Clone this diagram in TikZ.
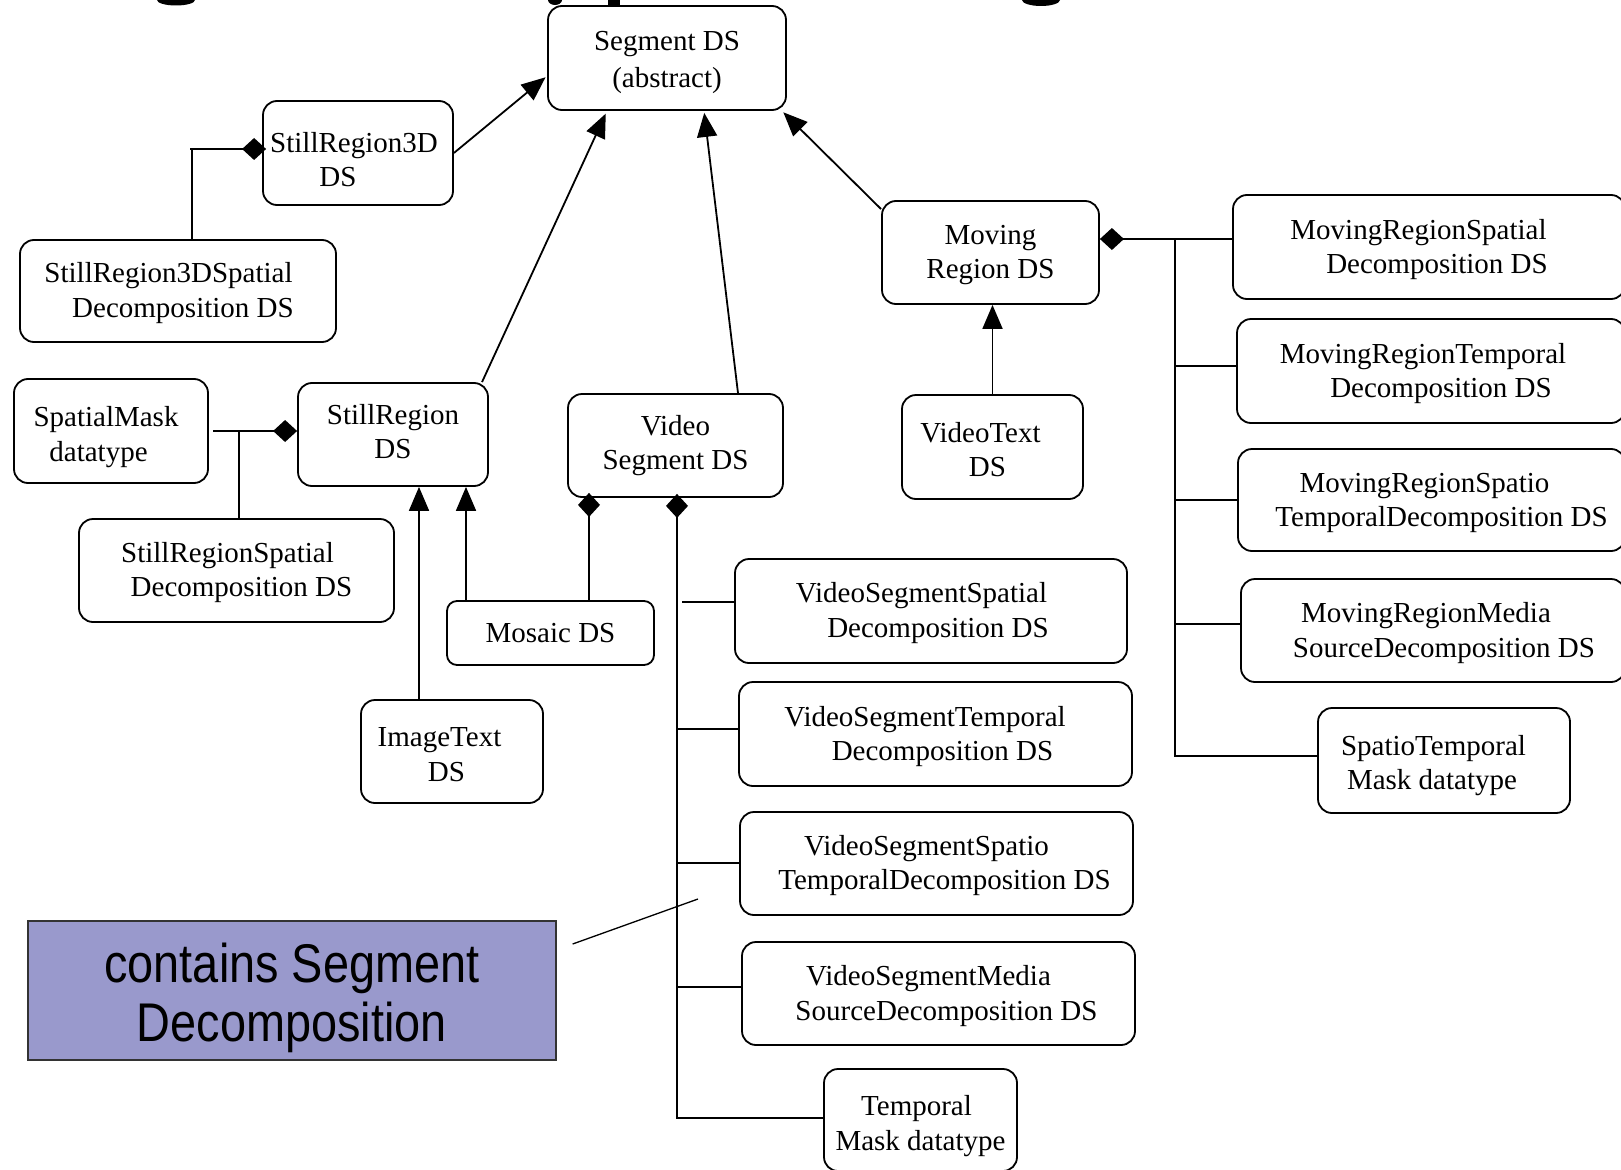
\documentclass[tikz,border=0pt]{standalone}
\usepackage{fontspec}
\setmainfont{Liberation Serif}
\newfontfamily\calloutfont[FakeStretch=0.86]{Liberation Sans}
\usetikzlibrary{arrows.meta,calc}
\definecolor{calloutfill}{HTML}{9999CC}
\definecolor{calloutdraw}{HTML}{333333}
\newcommand\boxtop[1]{\rule{0pt}{#1pt}}
\tikzset{
  dsbox/.style={draw, line width=1.8pt, rounded corners=14pt, align=center, inner sep=0pt,
    font=\fontsize{29}{34.5}\selectfont},
  conn/.style={line width=1.8pt},
  isa/.style={line width=1.8pt, -{Triangle[length=24pt,width=20pt]}},
  part/.style={line width=1.8pt, {Diamond[length=24pt,width=22pt]}-},
}
\begin{document}
\begin{tikzpicture}[x=1pt,y=-1pt]
\clip (0,0) rectangle (1621,1169);
\fill[white] (0,0) rectangle (1621,1169);

% fragments of the cut-off title
\fill (176,0) ellipse [x radius=19pt, y radius=5.5pt];
\fill (555,0) ellipse [x radius=7pt, y radius=5pt];
\fill (608,0) rectangle (620,5);
\fill (1041,0) ellipse [x radius=19pt, y radius=6pt];

% boxes
\node[dsbox, minimum width=238pt, minimum height=104pt] (seg) at (667,58) {\boxtop{28}Segment DS\\[3pt](abstract)};
\node[dsbox, minimum width=190pt, minimum height=104pt] (sr3d) at (358,153) {\boxtop{33}StillRegion3D\kern8pt\\DS\kern40pt};
\node[dsbox, minimum width=316pt, minimum height=102pt] (sr3dsp) at (178,291) {\boxtop{24}StillRegion3DSpatial\kern19pt\\Decomposition DS\kern-10pt};
\node[dsbox, minimum width=217pt, minimum height=103pt] (mr) at (990.5,252.5) {\boxtop{24}Moving\\Region DS};
\node[dsbox, minimum width=392pt, minimum height=104pt] (mrsp) at (1429,247) {\boxtop{25}MovingRegionSpatial\kern21pt\\Decomposition DS\kern-16pt};
\node[dsbox, minimum width=388pt, minimum height=104pt] (mrtp) at (1431,371) {\boxtop{25}MovingRegionTemporal\kern16pt\\Decomposition DS\kern-20pt};
\node[dsbox, minimum width=387pt, minimum height=102pt] (mrst) at (1431.5,500) {\boxtop{25}MovingRegionSpatio\kern14pt\\TemporalDecomposition DS\kern-20pt};
\node[dsbox, minimum width=384pt, minimum height=103pt] (mrms) at (1433,630.5) {\boxtop{25}MovingRegionMedia\kern14pt\\SourceDecomposition DS\kern-22pt};
\node[dsbox, minimum width=252pt, minimum height=105pt] (stm) at (1444,760.5) {\boxtop{30}SpatioTemporal\kern21pt\\Mask datatype\kern24pt};
\node[dsbox, minimum width=181pt, minimum height=104pt] (vt) at (992.5,447) {\boxtop{25}VideoText\kern24pt\\DS\kern10pt};
\node[dsbox, minimum width=194pt, minimum height=104pt] (smask) at (111,431) {\boxtop{32}SpatialMask\kern10pt\\datatype\kern25pt};
\node[dsbox, minimum width=190pt, minimum height=103pt] (sr) at (393,434.5) {\boxtop{25}StillRegion\\DS\rule[-11pt]{0pt}{11pt}};
\node[dsbox, minimum width=215pt, minimum height=103pt] (vs) at (675.5,445.5) {Video\\Segment DS};
\node[dsbox, minimum width=315pt, minimum height=103pt] (srsp) at (236.5,570.5) {\boxtop{24}StillRegionSpatial\kern18pt\\Decomposition DS\kern-10pt};
\node[dsbox, minimum width=207pt, minimum height=64pt, rounded corners=10pt] (mosaic) at (550.5,633) {Mosaic DS};
\node[dsbox, minimum width=182pt, minimum height=103pt] (it) at (452,751.5) {\boxtop{25}ImageText\kern25pt\\DS\kern11pt};
\node[dsbox, minimum width=392pt, minimum height=104pt] (vssp) at (931,611) {\boxtop{24}VideoSegmentSpatial\kern19pt\\Decomposition DS\kern-14pt};
\node[dsbox, minimum width=393pt, minimum height=104pt] (vstp) at (935.5,734) {\boxtop{25}VideoSegmentTemporal\kern21pt\\Decomposition DS\kern-14pt};
\node[dsbox, minimum width=393pt, minimum height=103pt] (vsst) at (936.5,863.5) {\boxtop{24}VideoSegmentSpatio\kern20pt\\TemporalDecomposition DS\kern-16pt};
\node[dsbox, minimum width=393pt, minimum height=103pt] (vsms) at (938.5,993.5) {\boxtop{25}VideoSegmentMedia\kern20pt\\SourceDecomposition DS\kern-16pt};
\node[dsbox, minimum width=193pt, minimum height=102pt] (tm) at (920.5,1120) {\boxtop{32}Temporal\kern8pt\\Mask datatype};

% callout
\node[draw=calloutdraw, fill=calloutfill, line width=1.3pt, minimum width=528pt, minimum height=139pt,
  inner sep=0pt, align=center, font=\calloutfont\fontsize{54.5}{59}\selectfont] (callout) at (292,990.5)
  {\rule{0pt}{54pt}contains Segment\\Decomposition};
\coordinate (ctip) at (698,899);
\draw[line width=1.3pt] ([xshift=16pt,yshift=46.5pt]callout.east) -- (ctip);

% generalisation arrows
\draw[isa, shorten >=2pt] (sr3d.east) -- ([yshift=-18pt]seg.west);
\draw[isa, shorten >=3pt] ([xshift=89pt]sr.north) -- ([xshift=-60pt]seg.south);
\draw[isa, shorten >=2pt] ([xshift=62.5pt]vs.north) -- ([xshift=37pt]seg.south);
\draw[isa, shorten >=2pt] ([yshift=-9pt]mr.north west) -- ([xshift=-5pt]seg.south east);
\draw[isa] (vt.north) -- (vt.north |- mr.south);
\draw[isa] ([xshift=-33pt]it.north) coordinate (itn) -- (itn |- sr.south);
\draw[isa] ([xshift=-84.5pt]mosaic.north) coordinate (msn) -- (msn |- sr.south);

% StillRegion3D composition
\draw[part] ([xshift=4pt,yshift=4pt]sr3d.west) coordinate (d3) -- ++(-76,0) coordinate (d3end);
\draw[conn] ([xshift=14pt]sr3dsp.north) coordinate (s3n) -- (s3n |- d3);

% StillRegion composition
\draw[part] ([yshift=3.5pt]sr.west) coordinate (dsr) -- ([xshift=4pt]smask.east);
\draw[conn] ([xshift=2.5pt]srsp.north) coordinate (ssn) -- (ssn |- dsr);

% VideoSegment compositions
\draw[part] ([xshift=-86.5pt,yshift=5pt]vs.south) coordinate (md) -- (md |- mosaic.north);
\coordinate (vtrunk) at (677,0);
\coordinate (vtrunkgap) at (682,0);
\draw[part] ([xshift=1.5pt,yshift=4pt]vs.south) -- ([yshift=2pt]tm.west -| vtrunk) -- ([yshift=2pt]tm.west);
\path ([yshift=9pt]vssp.west) coordinate (b1);
\path ([yshift=5pt]vstp.west) coordinate (b2);
\path ([yshift=0.5pt]vsst.west) coordinate (b3);
\path ([yshift=6.5pt]vsms.west) coordinate (b4);
\draw[conn] (b1) -- (b1 -| vtrunkgap);
\draw[conn] (b2) -- (b2 -| vtrunk);
\draw[conn] (b3) -- (b3 -| vtrunk);
\draw[conn] (b4) -- (b4 -| vtrunk);

% MovingRegion compositions
\coordinate (mtrunk) at (1175,0);
\draw[part] ([yshift=13.5pt]mr.east) coordinate (dmr) -- (dmr -| mrsp.west);
\draw[conn] (dmr -| mtrunk) -- ([yshift=4.5pt]stm.west -| mtrunk) -- ([yshift=4.5pt]stm.west);
\path ([yshift=5pt]mrtp.west) coordinate (m2);
\path (mrst.west) coordinate (m3);
\path ([yshift=6.5pt]mrms.west) coordinate (m4);
\draw[conn] (m2) -- (m2 -| mtrunk);
\draw[conn] (m3) -- (m3 -| mtrunk);
\draw[conn] (m4) -- (m4 -| mtrunk);
\end{tikzpicture}
\end{document}
